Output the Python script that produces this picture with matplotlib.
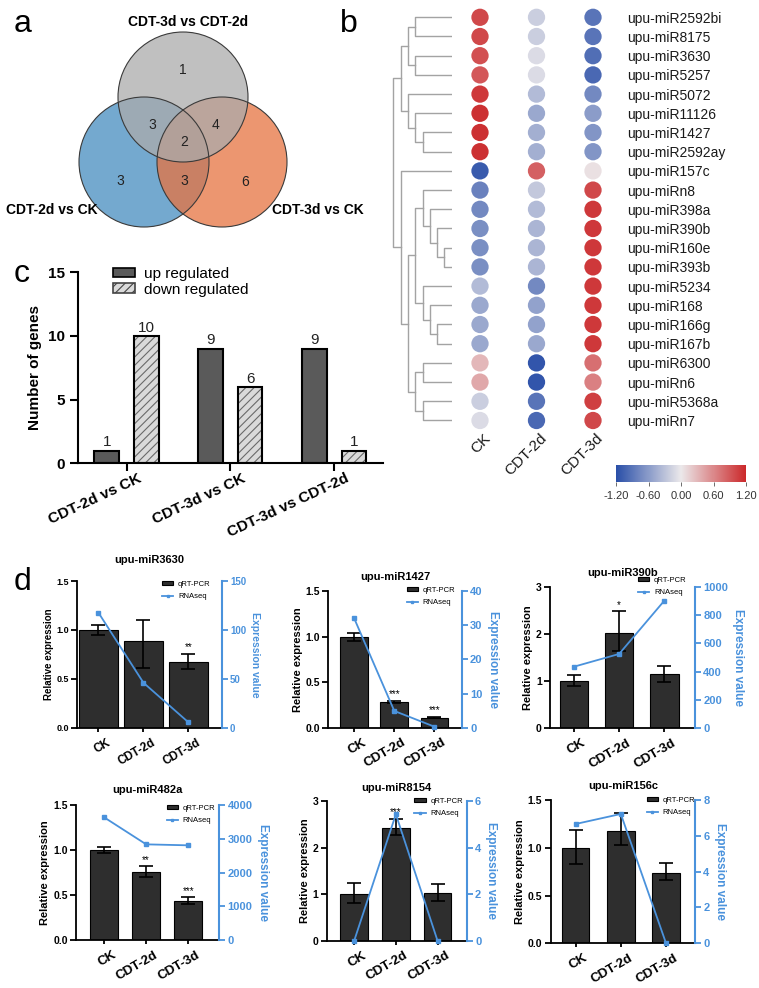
import numpy as np
import matplotlib
matplotlib.use('Agg')
import matplotlib.pyplot as plt
from matplotlib.patches import Circle, Patch
from matplotlib.colors import LinearSegmentedColormap
from matplotlib.transforms import ScaledTranslation

plt.rcParams['font.family'] = ['Liberation Sans', 'DejaVu Sans']
plt.rcParams['hatch.linewidth'] = 0.8

# ---- data ----
# a: venn
venn_sets = ['CDT-3d vs CDT-2d', 'CDT-2d vs CK', 'CDT-3d vs CK']
# regions: top only, top&left, top&right, all, left only, left&right, right only
venn_counts = [1, 3, 4, 2, 3, 3, 6]

# b: heatmap (z-score)
mirnas = ['upu-miR2592bi', 'upu-miR8175', 'upu-miR3630', 'upu-miR5257', 'upu-miR5072',
          'upu-miR11126', 'upu-miR1427', 'upu-miR2592ay', 'upu-miR157c', 'upu-miRn8',
          'upu-miR398a', 'upu-miR390b', 'upu-miR160e', 'upu-miR393b', 'upu-miR5234',
          'upu-miR168', 'upu-miR166g', 'upu-miR167b', 'upu-miR6300', 'upu-miRn6',
          'upu-miR5368a', 'upu-miRn7']
samples = ['CK', 'CDT-2d', 'CDT-3d']
z_ck = [1.0, 1.0, 0.95, 0.9, 1.1, 1.15, 1.15, 1.15, -1.1, -0.8, -0.75, -0.7, -0.7, -0.7,
        -0.35, -0.5, -0.5, -0.5, 0.3, 0.4, -0.2, -0.1]
z_2d = [-0.2, -0.2, -0.1, -0.1, -0.35, -0.5, -0.45, -0.45, 0.85, -0.25, -0.35, -0.4, -0.4,
        -0.4, -0.75, -0.55, -0.55, -0.5, -1.15, -1.15, -0.9, -1.0]
z_3d = [-0.9, -0.9, -0.95, -1.0, -0.75, -0.6, -0.65, -0.65, 0.05, 1.0, 1.1, 1.1, 1.1, 1.1,
        1.1, 1.1, 1.1, 1.1, 0.75, 0.65, 1.05, 1.0]
# dendrogram: (height, left, right), leaves are row indices
tree = (8,
        (7, (6, (5, 0, 1), (5, 2, 3)), (6, 4, (5, 5, (4, 6, 7)))),
        (7, 8, (6, (5, (4, 9, (3, 10, (2, 11, (1, 12, 13)))), (4, 14, (3, 15, (2, 16, 17)))),
                   (5, (4, 18, 19), (4, 20, 21)))))

# c: DEG counts
comparisons = ['CDT-2d vs CK', 'CDT-3d vs CK', 'CDT-3d vs CDT-2d']
up_counts = [1, 9, 9]
down_counts = [10, 6, 1]

# d: qRT-PCR vs RNAseq
mir_titles = ['upu-miR3630', 'upu-miR1427', 'upu-miR390b',
              'upu-miR482a', 'upu-miR8154', 'upu-miR156c']
qpcr_mean = [[1.0, 0.884, 0.673], [1.0, 0.28, 0.11], [1.0, 2.01, 1.14],
             [1.0, 0.756, 0.43], [1.0, 2.43, 1.02], [1.0, 1.175, 0.74]]
err_hi = [[0.045, 0.22, 0.085], [0.043, 0.018, 0.008], [0.12, 0.47, 0.17],
          [0.037, 0.066, 0.044], [0.23, 0.19, 0.19], [0.19, 0.185, 0.10]]
err_lo = [[0.054, 0.27, 0.068], [0.045, 0.012, 0.006], [0.10, 0.37, 0.15],
          [0.037, 0.052, 0.03], [0.18, 0.15, 0.16], [0.17, 0.15, 0.08]]
rnaseq = [[117.6, 46, 5.5], [32, 4.9, 0.3], [435, 525, 901],
          [3634, 2834, 2805], [0, 5.43, 0], [6.66, 7.22, 0]]
stars = [['', '', '**'], ['', '***', '***'], ['', '*', ''],
         ['', '**', '***'], ['', '***', ''], ['', '', '']]
qpcr_top = [1.5, 1.5, 3, 1.5, 3, 1.5]
qpcr_step = [0.5, 0.5, 1, 0.5, 1, 0.5]
rna_top = [150, 40, 1000, 4000, 6, 8]
rna_step = [50, 10, 200, 1000, 2, 2]

# ---- layout helpers ----
W, H = 759, 988
fig = plt.figure(figsize=(W / 100, H / 100), dpi=100)


def box(x0, y0, x1, y1):
    return fig.add_axes([x0 / W, 1 - y1 / H, (x1 - x0) / W, (y1 - y0) / H])


def shift(label, dx, dy=0):
    label.set_transform(label.get_transform() + ScaledTranslation(dx / 100, dy / 100, fig.dpi_scale_trans))


for letter, (lx, ly) in zip('abcd', [(14, 24), (340, 24), (14, 274), (14, 582)]):
    fig.text(lx / W, 1 - ly / H, letter, fontsize=23, va='center', ha='left')

# ---- a: venn ----
ax = box(0, 0, 380, 260)
ax.set_xlim(0, 380)
ax.set_ylim(260, 0)
ax.axis('off')
centers = [(183, 97), (144, 162), (222, 162)]
fills = ['#ababab', '#468cbf', '#e67340']
for (cx, cy), fc in zip(centers[1:] + centers[:1], fills[1:] + fills[:1]):
    ax.add_patch(Circle((cx, cy), 65, facecolor=fc, alpha=0.75, edgecolor='none'))
for (cx, cy) in centers:
    ax.add_patch(Circle((cx, cy), 65, facecolor='none', edgecolor='#3a3a3a', lw=0.8))
num_pos = [(183, 70), (152, 125), (216, 125), (184, 142), (120, 181), (184, 181), (245, 182)]
for (px, py), n in zip(num_pos, venn_counts):
    ax.text(px, py, str(n), fontsize=10, ha='center', va='center', color='#222222')
for (px, py), name in zip([(188, 22), (52, 210), (318, 210)], venn_sets):
    ax.text(px, py, name, fontsize=10, fontweight='bold', ha='center', va='center')

# ---- b: dendrogram + dot heatmap ----
cmap = LinearSegmentedColormap.from_list('bwr2', ['#2a4fa8', '#ebe8ea', '#cb292b'])

dax = box(393.3, 7.7, 451.7, 430.1)
dax.set_xlim(8, 0)
dax.set_ylim(21.5, -0.5)
dax.axis('off')


def draw_tree(node):
    if isinstance(node, int):
        return node, 0
    h, left, right = node
    y1, h1 = draw_tree(left)
    y2, h2 = draw_tree(right)
    dax.plot([h1, h, h, h2], [y1, y1, y2, y2], color='#a3a3a3', lw=1, clip_on=False)
    return (y1 + y2) / 2, h


draw_tree(tree)

hax = box(451.75, 7.7, 621.25, 430.1)
hax.set_xlim(-0.5, 2.5)
hax.set_ylim(21.5, -0.5)
rows = np.arange(len(mirnas))
for j, zvals in enumerate([z_ck, z_2d, z_3d]):
    sc = hax.scatter(np.full(len(rows), j), rows, c=zvals, cmap=cmap, vmin=-1.2, vmax=1.2,
                     s=155, edgecolors='none')
for s in hax.spines.values():
    s.set_visible(False)
hax.yaxis.tick_right()
hax.set_yticks(rows)
hax.set_yticklabels(mirnas, fontsize=10, color='#1a1a1a')
hax.tick_params(axis='y', length=0, pad=4)
hax.set_xticks(range(3))
hax.set_xticklabels(samples, fontsize=11, rotation=45, ha='right', va='top',
                    rotation_mode='anchor', color='#1a1a1a')
hax.tick_params(axis='x', length=0, pad=2)
for lab in hax.get_xticklabels():
    shift(lab, 3, 2)

cax = box(616, 465, 746, 482)
cb = fig.colorbar(sc, cax=cax, orientation='horizontal', ticks=[-1.2, -0.6, 0, 0.6, 1.2], format='%.2f')
cb.outline.set_visible(False)
cax.tick_params(labelsize=8, length=3, width=0.6, color='#555555', labelcolor='#333333')

# ---- c: bar chart ----
cx_ = box(77.7, 272.3, 383, 463.3)
xg = np.arange(len(comparisons))
b_up = cx_.bar(xg - 0.19, up_counts, 0.238, color='#5a5a5a', edgecolor='black', lw=1.5)
b_dn = cx_.bar(xg + 0.19, down_counts, 0.238, color='#dadada', edgecolor='#6a6a6a', lw=0,
               hatch='////')
cx_.bar(xg + 0.19, down_counts, 0.238, fill=False, edgecolor='black', lw=1.5)
cx_.bar_label(b_up, padding=1, fontsize=11, color='#222222')
cx_.bar_label(b_dn, padding=1, fontsize=11, color='#222222')
cx_.set_xlim(-0.47, 2.47)
cx_.set_ylim(0, 15)
cx_.set_yticks([0, 5, 10, 15])
cx_.set_ylabel('Number of genes', fontsize=11, fontweight='bold', labelpad=4)
cx_.tick_params(labelsize=11, width=1.5, length=6)
cx_.set_xticks(xg)
cx_.set_xticklabels(comparisons, rotation=25, ha='right', va='center', rotation_mode='anchor',
                    fontsize=11, fontweight='bold')
for lab in cx_.get_xticklabels():
    shift(lab, 14, -1)
for lab in cx_.get_yticklabels():
    lab.set_fontweight('bold')
for s in ['top', 'right']:
    cx_.spines[s].set_visible(False)
for s in ['left', 'bottom']:
    cx_.spines[s].set_linewidth(1.5)
leg_handles = [Patch(facecolor='#5a5a5a', edgecolor='black', lw=1.2),
               Patch(facecolor='#dadada', edgecolor='#444444', lw=1.2, hatch='////')]
cx_.legend(leg_handles, ['up regulated', 'down regulated'], loc='upper left',
           bbox_to_anchor=(113 / W, 1 - 267 / H), bbox_transform=fig.transFigure,
           frameon=False, fontsize=11, handlelength=1.45, handleheight=0.6,
           handletextpad=0.6, labelspacing=0.1, borderpad=0, borderaxespad=0)

# ---- d: qRT-PCR vs RNAseq ----
blue = '#4a92dc'
d_boxes = [(77.3, 581, 221.7, 727.7), (328.3, 591, 461.7, 727.7), (550, 586.7, 695, 728.3),
           (76, 805, 219.3, 940), (326.7, 801, 466.7, 940.7), (550.7, 800, 695, 943.3)]
d_xlims = [(-0.47, 2.74), (-0.645, 2.68), (-0.53, 2.68), (-0.67, 2.74), (-0.66, 2.7), (-0.55, 2.64)]
d_widths = [0.87, 0.69, 0.63, 0.67, 0.66, 0.61]
d_leg = [(162, 581), (406.7, 587), (638, 577), (166.7, 805), (414.3, 798), (646.7, 797)]
d_title_pad = [13, 8, 8, 8.5, 7.5, 8]
d_font = [7, 8, 8, 8, 8, 8]

for i in range(6):
    ax = box(*d_boxes[i])
    x = np.arange(3)
    bars = ax.bar(x, qpcr_mean[i], d_widths[i], color='#2e2e2e', edgecolor='black', lw=0.8,
                  label='qRT-PCR', zorder=2)
    ax.errorbar(x, qpcr_mean[i], yerr=[err_lo[i], err_hi[i]], fmt='none', ecolor='black',
                elinewidth=1.2, capsize=5, capthick=1.2, zorder=3)
    for k in range(3):
        if stars[i][k]:
            ax.annotate(stars[i][k], (x[k], qpcr_mean[i][k] + err_hi[i][k]), xytext=(0, 1),
                        textcoords='offset points', ha='center', va='bottom', fontsize=7)
    ax.set_xlim(*d_xlims[i])
    ax.set_ylim(0, qpcr_top[i])
    ax.set_yticks(np.arange(0, qpcr_top[i] + 1e-9, qpcr_step[i]))
    ax.tick_params(axis='y', labelsize=d_font[i] - 0.5, width=1.3, length=4, pad=2)
    ax.tick_params(axis='x', width=1.3, length=3, pad=2)
    ax.set_xticks(x)
    ax.set_xticklabels(samples, rotation=30, ha='right', va='center', rotation_mode='anchor',
                       fontsize=d_font[i] + 1.5, fontweight='bold')
    for lab in ax.get_xticklabels():
        shift(lab, 11, -7)
    for lab in ax.get_yticklabels():
        lab.set_fontweight('bold')
    ax.set_ylabel('Relative expression', fontsize=d_font[i], fontweight='bold', labelpad=2)
    ax.set_title(mir_titles[i], fontsize=8, fontweight='bold', pad=d_title_pad[i])
    for s in ['top', 'right']:
        ax.spines[s].set_visible(False)
    for s in ['left', 'bottom']:
        ax.spines[s].set_linewidth(1.3)

    ax2 = ax.twinx()
    line, = ax2.plot(x, rnaseq[i], color=blue, marker='s', ms=3.5, lw=1.3, label='RNAseq',
                     clip_on=False, zorder=4)
    ax2.set_ylim(0, rna_top[i])
    ax2.set_yticks(np.arange(0, rna_top[i] + 1e-9, rna_step[i]))
    for s in ['top', 'left', 'bottom']:
        ax2.spines[s].set_visible(False)
    ax2.spines['right'].set_color(blue)
    ax2.spines['right'].set_linewidth(1.5)
    ax2.tick_params(axis='y', colors=blue, labelsize=d_font[i], width=1.3, length=4, pad=2)
    for lab in ax2.get_yticklabels():
        lab.set_fontweight('bold')
    ax2.set_ylabel('Expression value', color=blue, fontsize=d_font[i] + 0.5, fontweight='bold',
                   rotation=270, va='bottom', labelpad=3)

    lx, ly = d_leg[i]
    ax2.legend([bars, line], ['qRT-PCR', 'RNAseq'], loc='upper left',
               bbox_to_anchor=(lx / W, 1 - ly / H), bbox_transform=fig.transFigure,
               frameon=False, fontsize=5.5, handlelength=1.5, handleheight=0.5,
               handletextpad=0.6, labelspacing=0.7, borderpad=0, borderaxespad=0,
               markerscale=0.6)

fig.savefig('out.png', dpi=100)
